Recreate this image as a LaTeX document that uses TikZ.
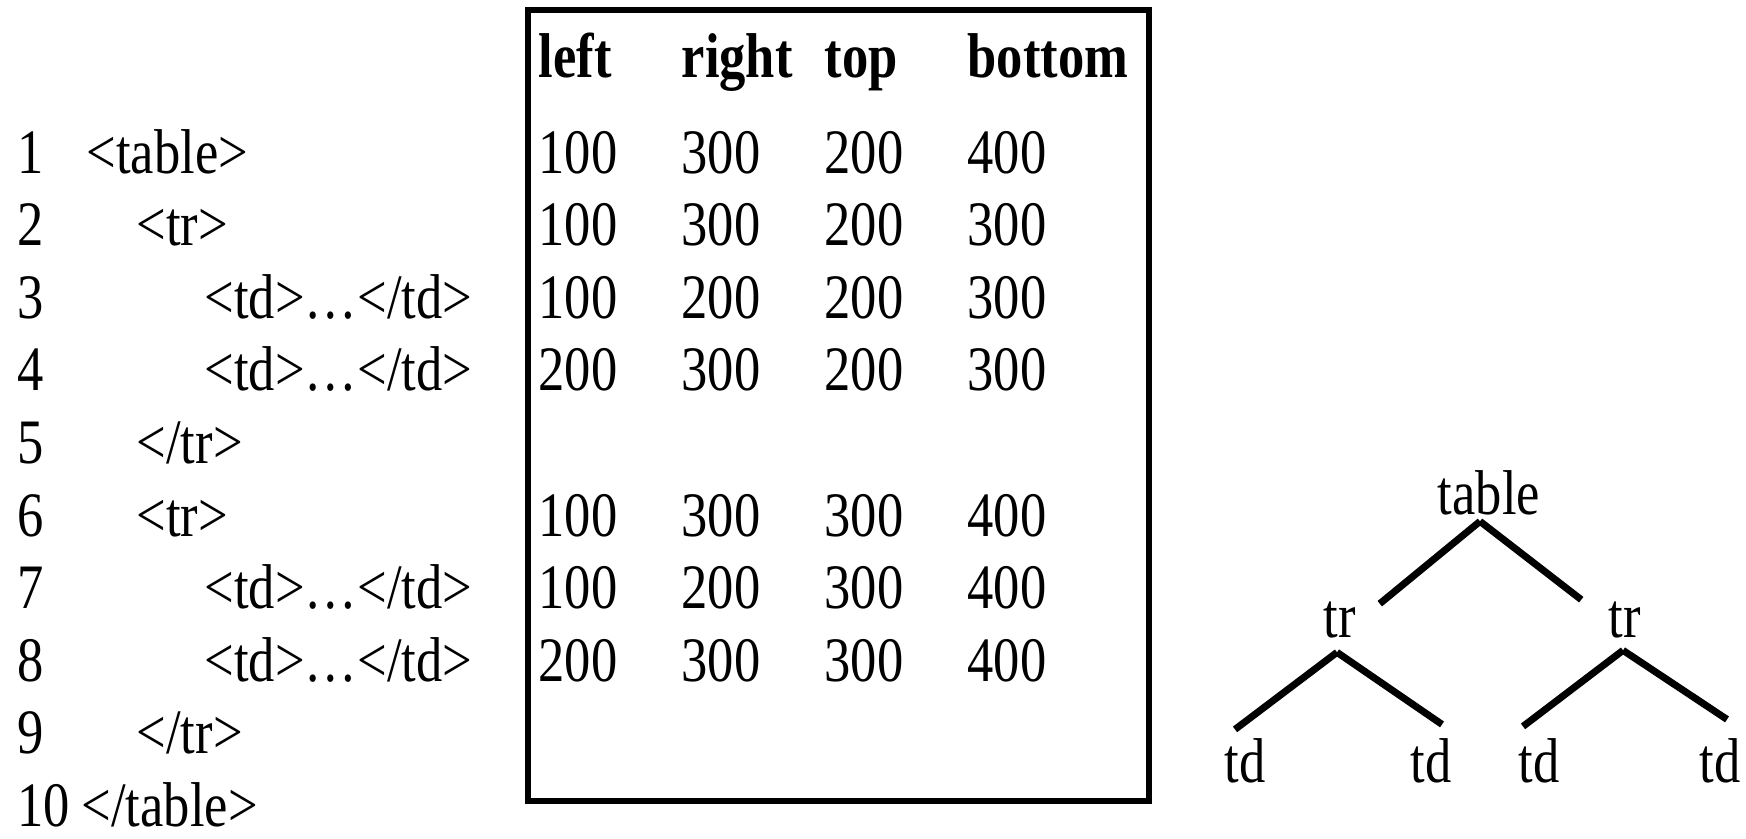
\documentclass[tikz,border=0pt]{standalone}
\usepackage{fontspec}
\setmainfont{Liberation Serif}[FakeStretch=0.83]
\usetikzlibrary{calc}
\begin{document}
\begin{tikzpicture}[x=0.01cm,y=-0.01cm,
  txt/.style={inner sep=0pt,anchor=base west,font=\fontsize{18}{20}\selectfont},
  head/.style={txt,font=\fontsize{18}{20}\selectfont\bfseries},
  leaf/.style={inner sep=0pt,anchor=base,font=\fontsize{18}{20}\selectfont},
  branch/.style={line width=2pt}]
  \useasboundingbox (0,0) rectangle (1746,838);

  % line numbers and source
  \foreach \n in {1,...,10}
  \node[txt] (num\n) at (17,{173+(\n-1)*72.6}) {\n};
  \node[txt] (tag1) at (86,173) {<table>};
  \node[txt] (tag2) at (136,245.6) {<tr>};
  \node[txt] (tag3) at (204,318.2) {<td>…</td>};
  \node[txt] (tag4) at (204,390.8) {<td>…</td>};
  \node[txt] (tag5) at (136,463.4) {</tr>};
  \node[txt] (tag6) at (136,536) {<tr>};
  \node[txt] (tag7) at (204,608.6) {<td>…</td>};
  \node[txt] (tag8) at (204,681.2) {<td>…</td>};
  \node[txt] (tag9) at (136,753.8) {</tr>};
  \node[txt] (tag10) at (81,826.4) {</table>};

  % coordinates table
  \draw[line width=1.7pt] (528,10) rectangle (1149,801);
  \node[head] (hleft) at (538,77) {left};
  \node[head] (hright) at (681,77) {right};
  \node[head] (htop) at (824,77) {top};
  \node[head] (hbottom) at (967,77) {bottom};
  \foreach \r/\a/\b/\c/\d in {1/100/300/200/400,2/100/300/200/300,
    3/100/200/200/300,4/200/300/200/300,6/100/300/300/400,
    7/100/200/300/400,8/200/300/300/400}
  {
  \node[txt] (l\r) at (538,{173+(\r-1)*72.6}) {\a};
  \node[txt] (r\r) at (681,{173+(\r-1)*72.6}) {\b};
  \node[txt] (t\r) at (824,{173+(\r-1)*72.6}) {\c};
  \node[txt] (b\r) at (967,{173+(\r-1)*72.6}) {\d};
  }

  % tree
  \node[leaf] (table) at (1489,514) {table};
  \node[leaf] (trL) at (1340,637) {tr};
  \node[leaf] (trR) at (1625,637) {tr};
  \node[leaf] (tdA) at (1245,782) {td};
  \node[leaf] (tdB) at (1431,782) {td};
  \node[leaf] (tdC) at (1539,782) {td};
  \node[leaf] (tdD) at (1720,782) {td};

  \draw[branch] ($(table.south)+(-9,6)$) -- ($(trL.north east)+(23,3)$);
  \draw[branch] ($(table.south)+(-9,6)$) -- ($(trR.north west)+(-27,-1)$);
  \draw[branch] ($(trL.south)+(-3,14)$) -- ($(tdA.north)+(-10,-8)$);
  \draw[branch] ($(trL.south)+(-3,14)$) -- ($(tdB.north)+(11,-13)$);
  \draw[branch] ($(trR.south)+(-2,12)$) -- ($(tdC.north)+(-16,-11)$);
  \draw[branch] ($(trR.south)+(-2,12)$) -- ($(tdD.north)+(7,-18)$);
\end{tikzpicture}
\end{document}
